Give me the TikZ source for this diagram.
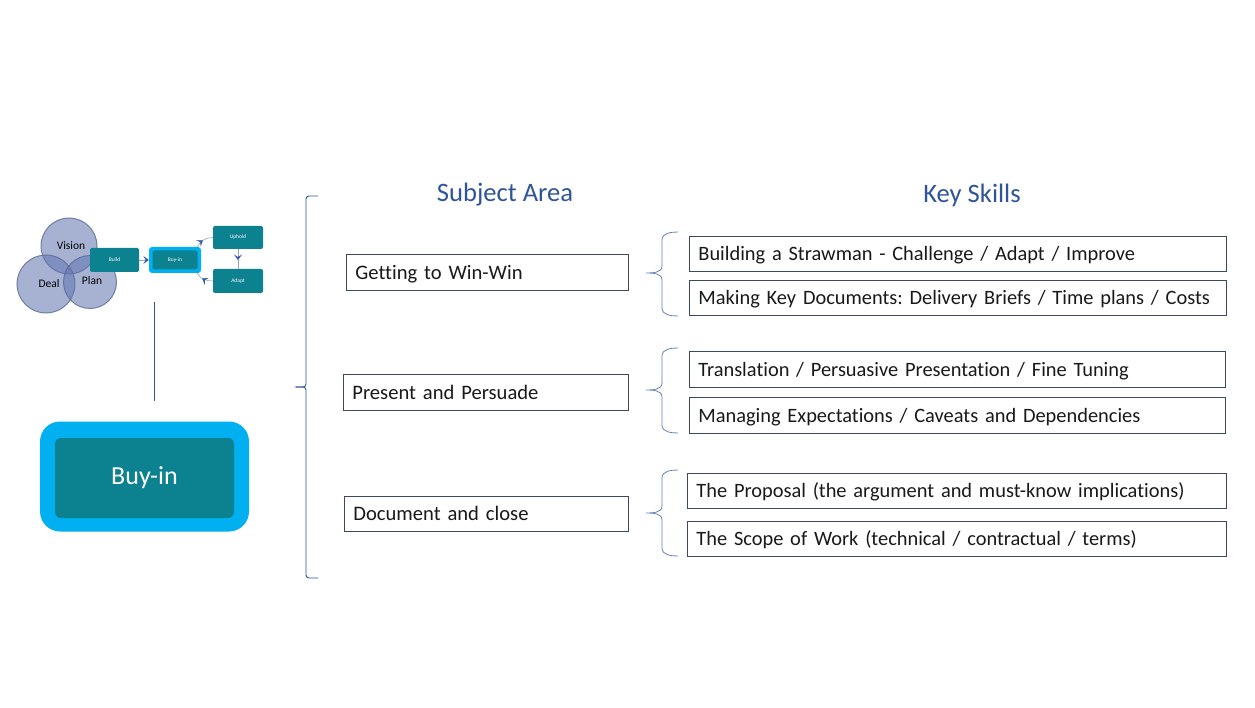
\documentclass[tikz,border=0pt]{standalone}
\usepackage{fontspec}
\setmainfont{Carlito}[Ligatures={NoCommon}]
\frenchspacing
\usetikzlibrary{arrows.meta,decorations.markings}
\definecolor{teal1}{RGB}{12,129,143}
\definecolor{lblue}{RGB}{0,176,240}
\definecolor{hdr}{RGB}{47,85,151}
\definecolor{boxline}{RGB}{60,72,95}
\definecolor{brk}{RGB}{47,85,151}
\definecolor{sbrk}{RGB}{100,130,185}
\definecolor{circ}{RGB}{95,115,175}
\definecolor{circedge}{RGB}{90,105,150}
\definecolor{arrline}{RGB}{150,165,190}
\definecolor{arrhead}{RGB}{50,90,170}
\tikzset{
  subj/.style={draw=boxline, line width=0.8pt, minimum height=36pt, inner xsep=9pt, text depth=0pt,
    align=left, font=\fontsize{20.6}{24}\selectfont, anchor=west, text=black!90},
  skill/.style={draw=boxline, line width=0.8pt, minimum height=35pt, inner xsep=9pt, text depth=0pt,
    align=left, font=\fontsize{20.4}{24}\selectfont, anchor=west, text=black!90},
  hdrtext/.style={text=hdr, font=\fontsize{26.6}{30}\selectfont},
  venn/.style={circle, fill=circ, fill opacity=0.55, draw=circedge, draw opacity=0.8, line width=1pt},
  vlabel/.style={font=\fontsize{11.5}{12}\selectfont, text=black},
  mini/.style={fill=teal1, rounded corners=2pt, text=white, font=\fontsize{5.5}{6}\selectfont, inner sep=0pt},
  brace/.style={draw=sbrk, line width=0.8pt},
  bigbrace/.style={draw=brk, line width=0.9pt},
  cyc/.style={draw=arrline, line width=0.6pt, postaction={decorate},
    decoration={markings, mark=at position #1 with {\arrow[arrhead]{Stealth[length=5.5pt,width=8pt,inset=2.5pt]}}}},
}
\begin{document}
\begin{tikzpicture}[x=1pt,y=-1pt]
\useasboundingbox (0,0) rectangle (1255,708);
\fill[white] (0,0) rectangle (1255,708);

% Venn circles
\node[venn, minimum size=56pt] (vision) at (69,246) {};
\node[venn, minimum size=58pt] (deal) at (46,284) {};
\node[venn, minimum size=53pt] (plan) at (90,282) {};
\node[vlabel] (tvision) at (71,246) {Vision};
\node[vlabel] (tdeal) at (49,284) {Deal};
\node[vlabel] (tplan) at (92,281) {Plan};

% mini process
\node[mini, minimum width=49pt, minimum height=24pt] (build) at (114.5,260) {Build};
\node[fill=lblue, rounded corners=3pt, minimum width=52pt, minimum height=26pt, inner sep=0pt] (mbuyo) at (175,260) {};
\node[mini, minimum width=45pt, minimum height=19pt] (mbuy) at (175,260) {Buy-in};
\node[mini, minimum width=50pt, minimum height=23pt] (uphold) at (238,237.5) {Uphold};
\node[mini, minimum width=50pt, minimum height=24pt] (adapt) at (238,281) {Adapt};

\draw[draw=arrline, line width=0.6pt, -{Stealth[length=5.5pt,width=8pt,inset=2.5pt,color=arrhead]}] (build.east) -- (mbuyo.west);
\draw[cyc=0.45] (mbuyo.north east) ++(-4,0) to[out=60,in=180] (uphold.west);
\draw[cyc=0.55] (uphold.south) -- (adapt.north);
\draw[cyc=0.6] (adapt.west) to[out=180,in=-60] ([xshift=-4pt]mbuyo.south east);

% vertical connector
\coordinate (vtop) at (154,302);
\coordinate (vbot) at (154,401);
\draw[draw=brk, line width=0.9pt] (vtop) -- (vbot);

% big Buy-in
\node[fill=lblue, rounded corners=20pt, minimum width=209pt, minimum height=110pt, inner sep=0pt] (bigo) at (144.5,476.5) {};
\node[fill=teal1, rounded corners=6pt, minimum width=179pt, minimum height=80pt, inner sep=0pt,
  text=white, font=\fontsize{26}{30}\selectfont] (big) at (144.5,478) {Buy-in};

% big bracket
\draw[bigbrace] (318,196) -- (309,196) to[out=180,in=90] (306,199) -- (306,384)
  to[out=-90,in=0] (295,387) to[out=0,in=90] (306,390) -- (306,575) to[out=-90,in=180] (309,578) -- (318,578);

% headers
\node[hdrtext] (hsub) at (505,195) {Subject Area};
\node[hdrtext] (hkey) at (972,195) {Key Skills};

% subject boxes
\node[subj, text width=264pt] (s1) at (346,272) {Getting to Win-Win};
\node[subj, text width=267pt] (s2) at (343,392) {Present and Persuade};
\node[subj, text width=266pt, minimum height=35pt] (s3) at (344,513.5) {Document and close};

% small braces
\draw[brace] (678,232) to[out=180,in=90] (662,240) -- (662,266) to[out=-90,in=0] (646,273)
  to[out=0,in=90] (662,280) -- (662,308) to[out=-90,in=180] (678,316);
\draw[brace] (678,348) to[out=180,in=90] (662,356) -- (662,383) to[out=-90,in=0] (646,390)
  to[out=0,in=90] (662,397) -- (662,425) to[out=-90,in=180] (678,433);
\draw[brace] (678,470) to[out=180,in=90] (662,478) -- (662,506) to[out=-90,in=0] (646,513)
  to[out=0,in=90] (662,520) -- (662,548) to[out=-90,in=180] (678,556);

% skill boxes
\node[skill, text width=519pt] (k1) at (689,253.5) {Building a Strawman - Challenge / Adapt / Improve};
\node[skill, text width=519pt] (k2) at (689,297.5) {Making Key Documents: Delivery Briefs / Time plans / Costs};
\node[skill, text width=518pt, minimum height=36pt] (k3) at (689,369) {Translation / Persuasive Presentation / Fine Tuning};
\node[skill, text width=518pt, minimum height=36pt] (k4) at (689,415) {Managing Expectations / Caveats and Dependencies};
\node[skill, text width=521pt] (k5) at (687,490.5) {The Proposal (the argument and must-know implications)};
\node[skill, text width=521pt] (k6) at (687,538.5) {The Scope of Work (technical / contractual / terms)};
\end{tikzpicture}
\end{document}
